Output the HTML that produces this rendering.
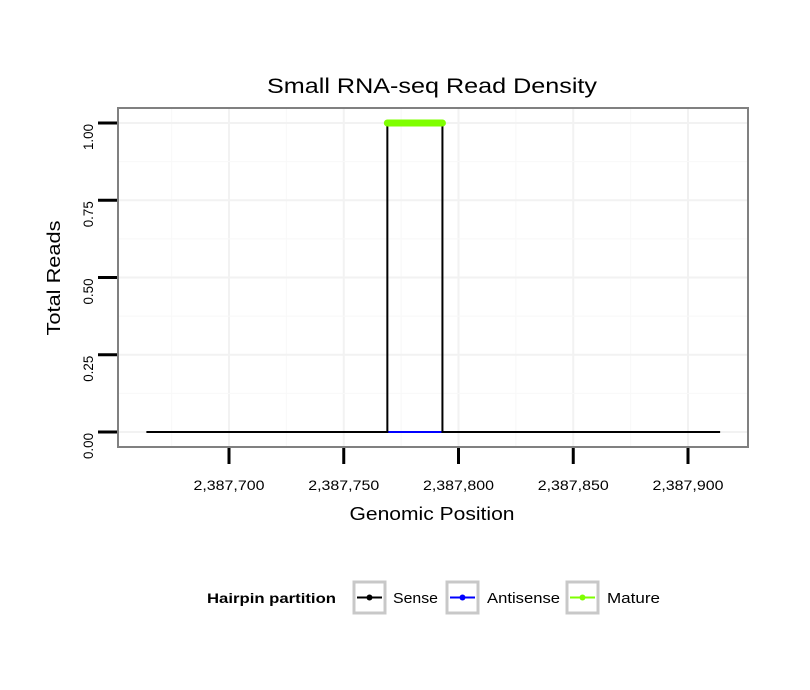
<!DOCTYPE html>
<html><head><meta charset="utf-8"><style>
html,body{margin:0;padding:0;background:#fff;}
svg{display:block;font-family:"Liberation Sans",sans-serif;}
</style></head><body>
<svg id="chart" width="810" height="690" viewBox="0 0 810 690" xmlns="http://www.w3.org/2000/svg">
<rect width="810" height="690" fill="#fff"/>
<text x="432" y="93" font-size="21" text-anchor="middle" textLength="330" lengthAdjust="spacingAndGlyphs">Small RNA-seq Read Density</text>
<g id="grid"></g>
<g id="series"></g>
<rect x="118" y="108" width="630" height="339" fill="none" stroke="#808080" stroke-width="2"/>
<g id="axes"></g>
<text x="432" y="520" font-size="18" text-anchor="middle" textLength="165" lengthAdjust="spacingAndGlyphs">Genomic Position</text>
<text transform="translate(60,278) rotate(-90)" font-size="18" text-anchor="middle" textLength="115" lengthAdjust="spacingAndGlyphs">Total Reads</text>
<g>
<text x="207" y="603" font-size="14" font-weight="bold" textLength="129" lengthAdjust="spacingAndGlyphs">Hairpin partition</text>
<g>
<rect x="354" y="582" width="31" height="31" fill="#fff" stroke="#c8c8c8" stroke-width="3"/>
<line x1="357" y1="597.5" x2="382" y2="597.5" stroke="#000" stroke-width="2"/><circle cx="369.5" cy="597.5" r="3" fill="#000"/>
<text x="393" y="603" font-size="15" textLength="45" lengthAdjust="spacingAndGlyphs">Sense</text></g>
<g>
<rect x="447" y="582" width="31" height="31" fill="#fff" stroke="#c8c8c8" stroke-width="3"/>
<line x1="450" y1="597.5" x2="475" y2="597.5" stroke="#0000ff" stroke-width="2"/><circle cx="462.5" cy="597.5" r="3" fill="#0000ff"/>
<text x="487" y="603" font-size="15" textLength="73" lengthAdjust="spacingAndGlyphs">Antisense</text></g>
<g>
<rect x="567" y="582" width="31" height="31" fill="#fff" stroke="#c8c8c8" stroke-width="3"/>
<line x1="570" y1="597.5" x2="595" y2="597.5" stroke="#7fff00" stroke-width="2"/><circle cx="582.5" cy="597.5" r="3" fill="#7fff00"/>
<text x="607" y="603" font-size="15" textLength="53" lengthAdjust="spacingAndGlyphs">Mature</text></g>
</g>
</svg>
<script>
const xTicks=[2387700,2387750,2387800,2387850,2387900];
const xTickLabels=["2,387,700","2,387,750","2,387,800","2,387,850","2,387,900"];
const yTicks=[0,0.25,0.5,0.75,1];
const yTickLabels=["0.00","0.25","0.50","0.75","1.00"];
const senseX=[2387664,2387769,2387769,2387793,2387793,2387914];
const senseY=[0,0,1,1,0,0];
const antisenseX=[2387769,2387793];
const antisenseY=[0,0];
const matureX=[2387769,2387793];
const matureY=[1,1];
const NS="http://www.w3.org/2000/svg";
function sx(v){return 229+(v-2387700)*2.295;}
function sy(v){return 432-v*309;}
function mk(tag,attrs,parent){const e=document.createElementNS(NS,tag);for(const k in attrs)e.setAttribute(k,attrs[k]);parent.appendChild(e);return e;}
const grid=document.getElementById('grid'),axes=document.getElementById('axes'),series=document.getElementById('series');
for(let i=0;i<xTicks.length;i++){
 const x=sx(xTicks[i]);
 const g=mk('line',{x1:x,x2:x,y1:109,y2:446,stroke:'#f2f2f2','stroke-width':2},grid);
 
 
 const xm=sx(xTicks[i]-25);
 const m=mk('line',{x1:xm,x2:xm,y1:109,y2:446,stroke:'#f8f8f8','stroke-width':1},grid);
 
 
}
for(let i=0;i<yTicks.length;i++){
 const y=sy(yTicks[i]);
 const g=mk('line',{x1:119,x2:747,y1:y,y2:y,stroke:'#f2f2f2','stroke-width':2},grid);
 
 
 if(i>0){const ym=sy(yTicks[i]-0.125);
 const m=mk('line',{x1:119,x2:747,y1:ym,y2:ym,stroke:'#f8f8f8','stroke-width':1},grid);
 
 }
}
for(let i=0;i<xTicks.length;i++){
 const x=sx(xTicks[i]);
 const t=mk('line',{x1:x,x2:x,y1:448,y2:464,stroke:'#000','stroke-width':3},axes);
 
 
 const l=mk('text',{x:x,y:490,'font-size':14,'text-anchor':'middle',textLength:71,lengthAdjust:'spacingAndGlyphs'},axes);
 l.textContent=xTickLabels[i];
 
 
}
for(let i=0;i<yTicks.length;i++){
 const y=sy(yTicks[i]);
 const t=mk('line',{x1:98,x2:117,y1:y,y2:y,stroke:'#000','stroke-width':3},axes);
 
 
 const l=mk('text',{transform:`translate(93,${y+27}) rotate(-90)`,'font-size':14,'text-anchor':'start',textLength:26,lengthAdjust:'spacingAndGlyphs'},axes);
 l.textContent=yTickLabels[i];
 
 
}
function pts(xs,ys){return xs.map((v,i)=>sx(v)+','+sy(ys[i])).join(' ');}
const a=mk('polyline',{points:pts(antisenseX,antisenseY),fill:'none',stroke:'#0000ff','stroke-width':2},series);


const s=mk('polyline',{points:pts(senseX,senseY),fill:'none',stroke:'#000','stroke-width':2},series);


const m=mk('polyline',{points:pts(matureX,matureY),fill:'none',stroke:'#7fff00','stroke-width':7,'stroke-linecap':'round'},series);


</script>
</body></html>
